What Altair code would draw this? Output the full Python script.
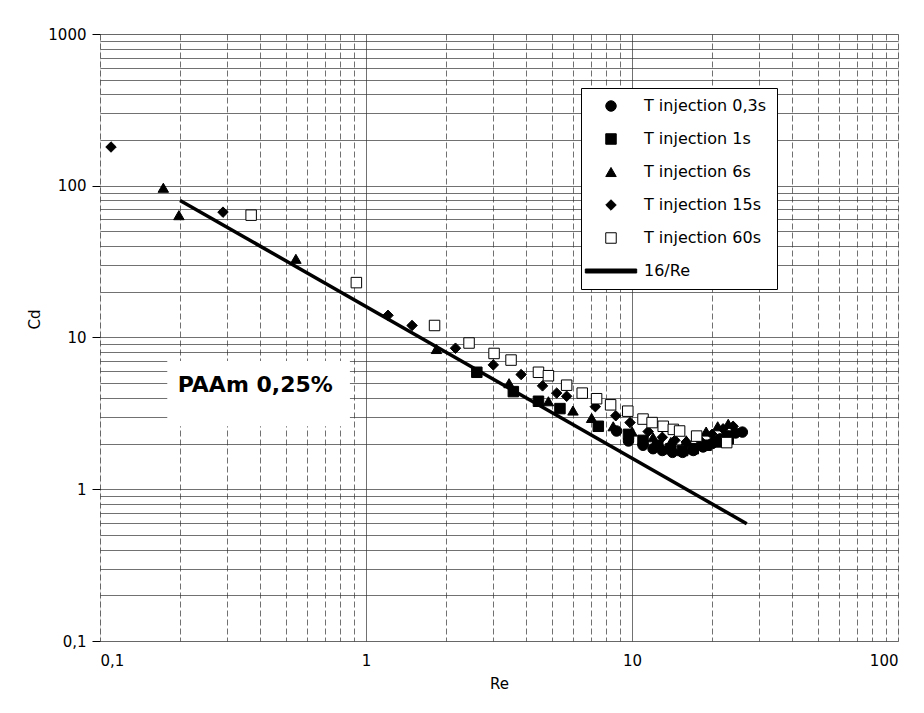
import altair as alt
import pandas as pd

# ---- data ----
series_names = ["T injection 0,3s", "T injection 1s", "T injection 6s",
                "T injection 15s", "T injection 60s", "16/Re"]

re_03 = [8.75, 9.7, 11.0, 12.0, 13.0, 14.2, 15.5, 17.0, 18.5, 20.0, 21.5, 23.0, 24.5, 26.0]
cd_03 = [2.42, 2.08, 1.95, 1.85, 1.8, 1.75, 1.75, 1.8, 1.9, 2.0, 2.15, 2.25, 2.35, 2.38]

re_1 = [2.61, 3.58, 4.45, 5.36, 7.47, 9.7, 11.0, 12.5, 14.0, 15.5, 17.0, 19.0, 21.0, 23.0]
cd_1 = [5.9, 4.4, 3.8, 3.4, 2.6, 2.3, 2.1, 1.95, 1.85, 1.8, 1.85, 1.95, 2.05, 2.15]

re_6 = [0.173, 0.198, 0.545, 1.84, 3.45, 4.85, 6.0, 7.05, 8.5, 10.0, 12.0, 14.0, 16.0, 19.0, 21.0, 23.0]
cd_6 = [97, 64, 33, 8.4, 5.0, 3.8, 3.3, 2.95, 2.6, 2.4, 2.2, 2.05, 2.1, 2.4, 2.6, 2.7]

re_15 = [0.11, 0.29, 1.21, 1.49, 2.17, 3.01, 3.83, 4.61, 5.21, 5.68, 7.28, 8.69, 9.83,
         11.5, 13.0, 14.5, 16.0, 18.0, 20.0, 22.0, 24.0]
cd_15 = [180, 67, 14, 12, 8.5, 6.6, 5.7, 4.8, 4.3, 4.1, 3.5, 3.05, 2.75,
         2.4, 2.2, 2.1, 2.05, 2.1, 2.3, 2.5, 2.6]

re_60 = [0.37, 0.92, 1.81, 2.44, 3.03, 3.51, 4.45, 4.85, 5.68, 6.5, 7.36, 8.31, 9.64,
         11.0, 11.9, 13.1, 14.3, 15.1, 17.5, 22.7]
cd_60 = [64, 23, 12, 9.2, 7.85, 7.1, 5.9, 5.6, 4.85, 4.3, 3.95, 3.6, 3.27,
         2.9, 2.75, 2.6, 2.48, 2.42, 2.24, 2.03]

line_re = [0.2, 27.0]
line_cd = [80.0, 0.593]

x_tick_values = [0.1, 0.2, 0.3, 0.4, 0.5, 0.6, 0.7, 0.8, 0.9,
                 1, 2, 3, 4, 5, 6, 7, 8, 9,
                 10, 20, 30, 40, 50, 60, 70, 80, 90, 100]
y_tick_values = [0.1, 0.2, 0.3, 0.4, 0.5, 0.6, 0.7, 0.8, 0.9,
                 1, 2, 3, 4, 5, 6, 7, 8, 9,
                 10, 20, 30, 40, 50, 60, 70, 80, 90,
                 100, 200, 300, 400, 500, 600, 700, 800, 900, 1000]

annotation_text = "PAAm 0,25%"

# ---- tables ----
rows = []
for name, xs, ys in zip(series_names[:5], [re_03, re_1, re_6, re_15, re_60],
                        [cd_03, cd_1, cd_6, cd_15, cd_60]):
    for a, b in zip(xs, ys):
        rows.append({"series": name, "re": a, "cd": b})
pts = pd.DataFrame(rows)
line_df = pd.DataFrame({"re": line_re, "cd": line_cd})
box_df = pd.DataFrame({"x1": [0.179], "x2": [0.87], "y1": [2.6], "y2": [7.0]})
txt_df = pd.DataFrame({"re": [0.196], "cd": [4.35], "t": [annotation_text]})

FONT = "DejaVu Sans"

x_label = ("datum.value == 0.1 ? '0,1' : (datum.value == 1 ? '1' : "
           "(datum.value == 10 ? '10' : (datum.value == 100 ? '100' : '')))")
y_label = ("datum.value == 0.1 ? '0,1' : (datum.value == 1 ? '1' : "
           "(datum.value == 10 ? '10' : (datum.value == 100 ? '100' : "
           "(datum.value == 1000 ? '1000' : ''))))")

xscale = alt.Scale(type="log", domain=[0.1, 100])
yscale = alt.Scale(type="log", domain=[0.1, 1000])

x_axis = alt.Axis(values=x_tick_values, labelExpr=x_label, title="Re",
                  grid=True, gridColor="#333", gridWidth=0.7,
                  gridDash={"condition": {"test": "datum.value == 1 || datum.value == 10",
                                          "value": []}, "value": [6, 3]},
                  ticks=False, labelPadding=12, labelOverlap=False,
                  labelFont=FONT, labelFontSize=15, labelColor="black",
                  titleFont=FONT, titleFontSize=15, titleFontWeight="normal",
                  titleColor="black", titlePadding=8, domain=False)
y_axis = alt.Axis(values=y_tick_values, labelExpr=y_label, title="Cd",
                  grid=True, gridColor="#333", gridWidth=0.7,
                  ticks=True, tickColor="black",
                  tickSize={"condition": {"test": "datum.value == 0.1 || datum.value == 1 || datum.value == 10 || datum.value == 100 || datum.value == 1000",
                                          "value": 8}, "value": 0},
                  labelPadding=6, labelOverlap=False,
                  labelFont=FONT, labelFontSize=15, labelColor="black",
                  titleFont=FONT, titleFontSize=15, titleFontWeight="normal",
                  titleColor="black", titleX=-58, titleY=285, domain=False)

base_x = alt.X("re:Q", scale=xscale, axis=x_axis)
base_y = alt.Y("cd:Q", scale=yscale, axis=y_axis)

legend = alt.Legend(title=None, orient="none", legendX=481, legendY=54,
                    strokeColor="black", fillColor="white", padding=10,
                    rowPadding=17, labelOffset=25, symbolOffset=12,
                    labelFont=FONT, labelFontSize=16, labelColor="black",
                    symbolStrokeWidth=1, symbolSize=110, labelLimit=300)

box = alt.Chart(box_df).mark_rect(color="white").encode(
    x=alt.X("x1:Q", scale=xscale, axis=x_axis), x2="x2:Q",
    y=alt.Y("y1:Q", scale=yscale, axis=y_axis), y2="y2:Q")

line = alt.Chart(line_df).mark_line(color="black", strokeWidth=3.5).encode(
    x=base_x, y=base_y)

points = alt.Chart(pts).mark_point(filled=True, size=110, strokeWidth=1, opacity=1).encode(
    x=base_x, y=base_y,
    shape=alt.Shape("series:N", sort=series_names,
                    scale=alt.Scale(domain=series_names,
                                    range=["circle", "square", "triangle-up", "diamond",
                                           "square", "M-4.9,-0.38L4.9,-0.38L4.9,0.38L-4.9,0.38Z"]),
                    legend=legend),
    fill=alt.Fill("series:N", sort=series_names,
                  scale=alt.Scale(domain=series_names,
                                  range=["black", "black", "black", "black", "white", "black"]),
                  legend=legend),
    stroke=alt.Stroke("series:N", sort=series_names,
                      scale=alt.Scale(domain=series_names,
                                      range=["black", "black", "black", "black", "black", "black"]),
                      legend=legend),
    order=alt.Order("idx:Q"),
).transform_window(idx="row_number()")

text = alt.Chart(txt_df).mark_text(align="left", baseline="alphabetic", font=FONT,
                                   fontSize=22, fontWeight="bold", color="black").encode(
    x=base_x, y=base_y, text="t:N")

chart = alt.layer(box, line, points, text).properties(
    width=798, height=607,
    autosize=alt.AutoSizeParams(type="none"),
    padding={"left": 92, "top": 26, "right": 18, "bottom": 64},
).configure_view(stroke="black", strokeWidth=1.5).configure(font=FONT)

chart.save("out.html", embed_options={"renderer": "svg", "actions": False})
